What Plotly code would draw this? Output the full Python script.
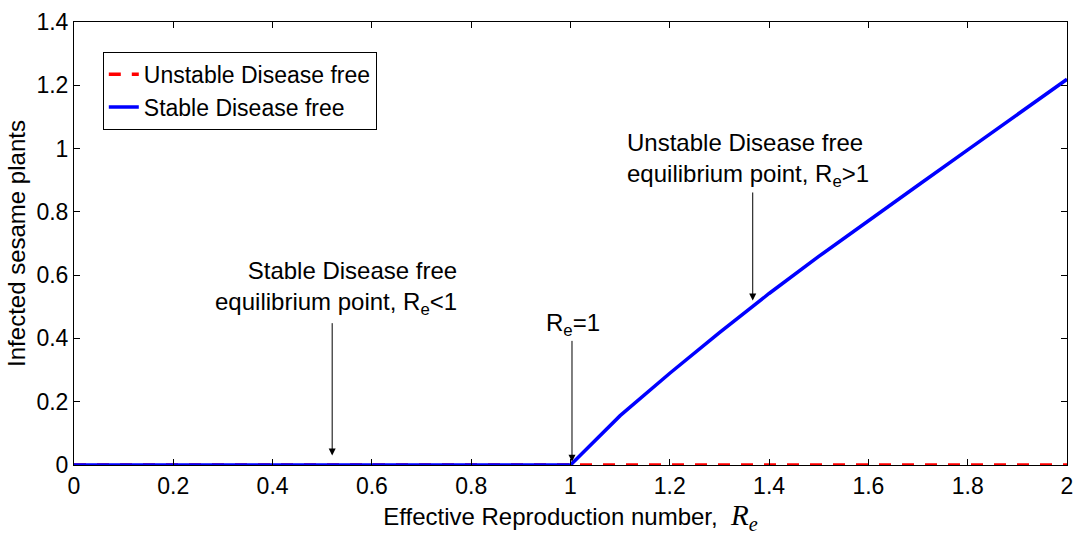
import plotly.graph_objects as go

# Data
re_unstable = [0.0, 0.2, 0.4, 0.6, 0.8, 1.0, 1.2, 1.4, 1.6, 1.8, 2.0]
inf_unstable = [0, 0, 0, 0, 0, 0, 0, 0, 0, 0, 0]

re_stable = [0.0, 0.2, 0.4, 0.6, 0.8, 1.0, 1.1, 1.2, 1.3, 1.4, 1.5, 1.6, 1.7, 1.8, 1.9, 2.0]
inf_stable = [0, 0, 0, 0, 0, 0, 0.156, 0.290, 0.418, 0.542, 0.659, 0.773, 0.884, 0.996, 1.107, 1.219]

x_ticks = [0, 0.2, 0.4, 0.6, 0.8, 1, 1.2, 1.4, 1.6, 1.8, 2]
x_tick_labels = ["0", "0.2", "0.4", "0.6", "0.8", "1", "1.2", "1.4", "1.6", "1.8", "2"]
y_ticks = [0, 0.2, 0.4, 0.6, 0.8, 1, 1.2, 1.4]
y_tick_labels = ["0", "0.2", "0.4", "0.6", "0.8", "1", "1.2", "1.4"]

FONT = "Liberation Sans, Arial, sans-serif"
SUB = "<sub style='font-size:22px'>e</sub>"

fig = go.Figure()
fig.add_trace(go.Scatter(x=re_unstable, y=inf_unstable, mode="lines",
                         name="Unstable Disease free",
                         line=dict(color="#ff0000", width=3.5, dash="12px,11px")))
fig.add_trace(go.Scatter(x=re_stable, y=inf_stable, mode="lines",
                         name="Stable Disease free",
                         line=dict(color="#0000ff", width=3.5)))

annots = []
# arrows (tail -> head in data coords)
arrows = [(0.52, 0.453, 0.52, 0.03), (1.003, 0.397, 1.003, 0.01), (1.367, 0.866, 1.367, 0.52)]
for tx, ty, hx, hy in arrows:
    annots.append(dict(x=hx, y=hy, ax=tx, ay=ty, xref="x", yref="y", axref="x", ayref="y",
                       text="", showarrow=True, arrowhead=2, arrowsize=1.4, arrowwidth=1,
                       arrowcolor="black"))
annots.append(dict(x=0.775, y=0.56, xref="x", yref="y", xanchor="right", yanchor="middle",
                   align="right", showarrow=False,
                   text="Stable Disease free<br>equilibrium point, R" + SUB + "<1",
                   font=dict(family=FONT, size=24, color="black")))
annots.append(dict(x=1.005, y=0.445, xref="x", yref="y", xanchor="center", yanchor="middle",
                   showarrow=False, text="R" + SUB + "=1",
                   font=dict(family=FONT, size=24, color="black")))
annots.append(dict(x=1.11, y=0.965, xref="x", yref="y", xanchor="left", yanchor="middle",
                   align="left", showarrow=False,
                   text="Unstable Disease free<br>equilibrium point, R" + SUB + ">1",
                   font=dict(family=FONT, size=24, color="black")))

fig.update_layout(
    width=1082, height=539,
    margin=dict(l=74, r=9, t=17, b=74),
    paper_bgcolor="white", plot_bgcolor="white",
    font=dict(family=FONT, size=22, color="black"),
    showlegend=True,
    legend=dict(x=0.029, y=0.933, xanchor="left", yanchor="top",
                bgcolor="white", bordercolor="black", borderwidth=1,
                font=dict(family=FONT, size=23, color="black"),
                tracegroupgap=0, itemwidth=30),
    annotations=annots,
)
fig.update_xaxes(range=[0, 2], tickvals=x_ticks, ticktext=x_tick_labels,
                 showline=True, linecolor="black", linewidth=1, mirror="allticks",
                 ticks="inside", ticklen=6, tickcolor="black", showgrid=False, zeroline=False,
                 tickfont=dict(size=23),
                 title=dict(text="Effective Reproduction number,  <span style='font-family:Liberation Serif, Times New Roman, serif; font-size:29px'><i>R<sub>e</sub></i></span>",
                            font=dict(size=24), standoff=2))
fig.update_yaxes(range=[0, 1.4], tickvals=y_ticks, ticktext=y_tick_labels,
                 showline=True, linecolor="black", linewidth=1, mirror="allticks",
                 ticks="inside", ticklen=6, tickcolor="black", showgrid=False, zeroline=False,
                 tickfont=dict(size=23),
                 title=dict(text="Infected sesame plants", font=dict(size=24), standoff=4))

fig.write_html("out.html")
